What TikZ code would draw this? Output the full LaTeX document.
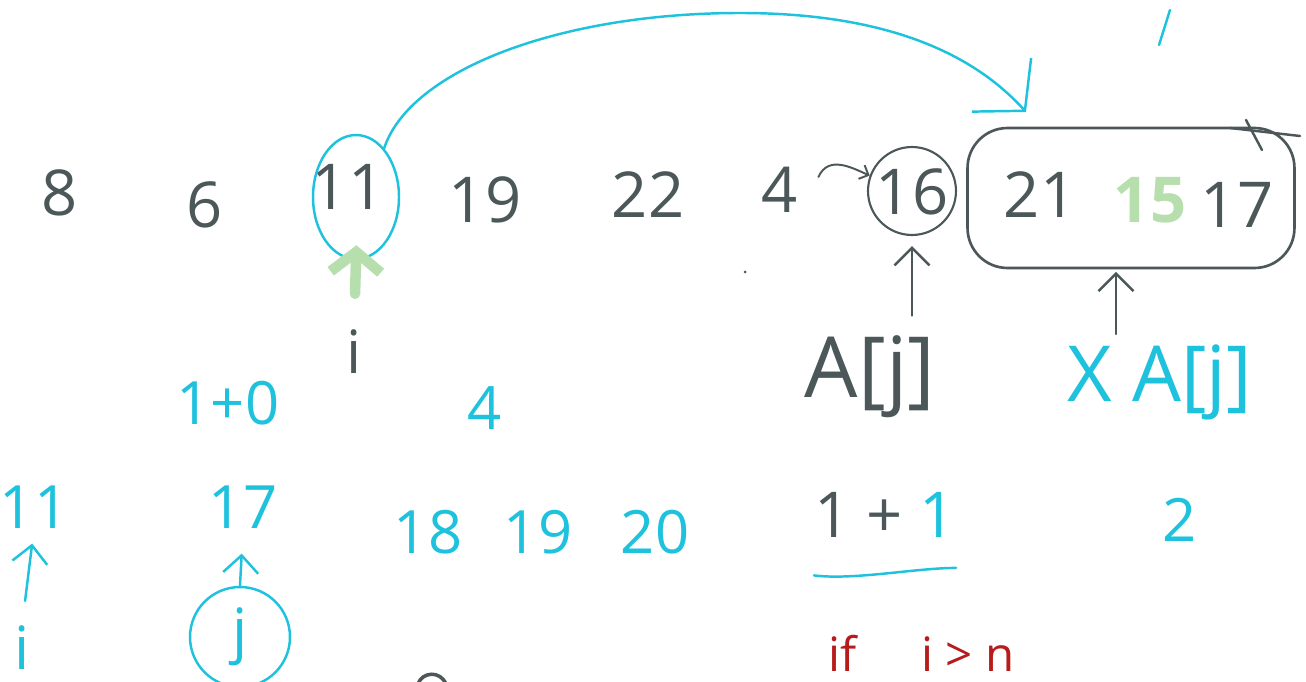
\documentclass[tikz,border=0pt]{standalone}
\usepackage{fontspec}
\setmainfont{Open Sans}
\definecolor{wbink}{HTML}{4B5758}
\definecolor{wbcyan}{HTML}{1EC2DD}
\definecolor{wbgreen}{HTML}{B7DFAE}
\definecolor{wbred}{HTML}{B71C1C}
\usetikzlibrary{positioning, arrows.meta, shapes.geometric}

\begin{document}
\begin{tikzpicture}[x=0.02cm, y=-0.02cm, every node/.style={inner sep=0pt},
    num/.style={text=wbink, font=\fontsize{36}{40}\selectfont},
    cnum/.style={text=wbcyan, font=\fontsize{34}{38}\selectfont},
    inkline/.style={draw=wbink, line width=1.4pt, line cap=round},
    cyanline/.style={draw=wbcyan, line width=1.4pt, line cap=round},
    pen/.style={-{Straight Barb[length=3.5mm, width=7mm]}}]
        \useasboundingbox[fill=white] (0,0) rectangle (1306,682);
        \clip (0,0) rectangle (1306,682);
        \node[num] (n8) at (60,193) {8};
        \node[num] (n6) at (205,205) {6};
        \node[num] (n11) at (348,187) {11};
        \node[num] (n19) at (485,200) {19};
        \node[num] (n22) at (648,195) {22};
        \node[num] (n4) at (780,190) {4};
        \node[num] (n16) at (912,192) {16};
        \node[num] (n21) at (1040,195) {21};
        \node[num, text=wbgreen, font=\fontsize{36}{40}\selectfont\bfseries] (n15) at (1150,200) {15};
        \node[num] (n17) at (1237,205) {17};
        \node[ellipse, draw=wbcyan, line width=1.4pt, minimum width=1.72cm, minimum height=2.48cm] (c11) at (356,197) {};
        \node[circle, draw=wbink, line width=1.2pt, minimum size=1.76cm] (c16) at (912,191) {};
        \node[draw=wbink, line width=1.5pt, rounded corners=0.8cm, minimum width=6.54cm, minimum height=2.8cm] (grp) at (1131,198) {};
        \node[num, font=\fontsize{34}{38}\selectfont] (iLab) at (354,352) {i};
        \node[num, font=\fontsize{48}{52}\selectfont] (aj) at (870,377) {A[j]};
        \node[cnum, font=\fontsize{44}{48}\selectfont] (xaj) at (1160,382) {X A[j]};
        \node[cnum] (s10) at (228,403) {1+0};
        \node[cnum] (c4) at (485,408) {4};
        \node[cnum] (r11) at (34,507) {11};
        \node[cnum] (r17) at (243,507) {17};
        \node[cnum] (r18) at (428,532) {18};
        \node[cnum] (r19) at (538,532) {19};
        \node[cnum] (r20) at (655,532) {20};
        \node[num] (sum) at (885,515) {1 + \textcolor{wbcyan}{1}};
        \node[cnum] (r2) at (1180,520) {2};
        \node[cnum] (ri) at (22,648) {i};
        \node[circle, draw=wbcyan, line width=1.4pt, minimum size=2cm] (cj) at (240,637) {};
        \node[cnum] (jLab) at (cj) {j};
        \node[anchor=base west, text=wbred, font=\fontsize{27}{31}\selectfont] (cond) at (828,671) {if\hspace{1.3cm}i > n};
        \coordinate (arcTop) at (740,13);
        \coordinate (arcTip) at (1026,112);
        \draw[cyanline, -{Straight Barb[length=7mm, width=16mm]}] (c11.60) .. controls (410,70) and (560,13) .. (arcTop) .. controls (880,13) and (970,50) .. (arcTip);
        \draw[inkline, line width=1.1pt, -{Straight Barb[length=1.5mm, width=3mm]}] ([xshift=0.4cm, yshift=-0.2cm]n4.north east) .. controls +(10,-22) and +(-18,-8) .. (c16.160);
        \draw[wbgreen, line width=6pt, line cap=round, -{Straight Barb[length=4mm, width=10mm]}, shorten <=0.72cm, shorten >=-0.3cm] (iLab.north) -- (c11.south);
        \draw[inkline, pen, shorten <=0.4cm, shorten >=0.2cm] (aj.north -| c16.south) -- (c16.south);
        \draw[inkline, pen, shorten <=0.2cm, shorten >=0.05cm] ([xshift=-0.3cm]xaj.north -| grp.south) -- ([xshift=-0.3cm]grp.south);
        \draw[cyanline, pen, shorten <=0.5cm, shorten >=0.3cm] (ri.north) -- (r11.south);
        \draw[cyanline, pen, shorten >=0.5cm] (cj.north) -- (r17.south);
        \draw[cyanline] ([yshift=-0.75cm]sum.south west) .. controls +(40,5) and +(-40,0) .. ([yshift=-0.6cm]sum.south east);
        \draw[cyanline] (1170,10) -- (1159,45);
        \draw[inkline] (1230,128) -- (1300,136);
        \draw[inkline] (1246,120) -- (1262,150);
        \draw[inkline, line width=2pt] (418,684) .. controls (422,672) and (440,670) .. (446,684);
        \fill[wbink] (745,272) circle (1.5);
      \end{tikzpicture}
\end{document}
